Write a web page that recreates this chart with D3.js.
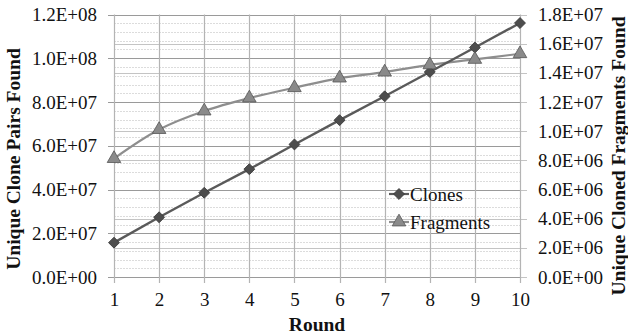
<!DOCTYPE html>
<html>
<head>
<meta charset="utf-8">
<script src="https://cdn.jsdelivr.net/npm/d3@7"></script>
<style>
  html, body { margin: 0; padding: 0; background: #fff; }
  svg { display: block; font-family: "Liberation Serif", "Times New Roman", serif; }
</style>
</head>
<body>
<svg id="chart" width="628" height="335"></svg>
<script>
// Rounds on the category axis
const rounds = [1, 2, 3, 4, 5, 6, 7, 8, 9, 10];
// Unique clone pairs found per round (left axis)
const clones = [1.57e7, 2.73e7, 3.85e7, 4.93e7, 6.06e7, 7.17e7, 8.26e7, 9.37e7, 1.049e8, 1.161e8];
// Unique cloned fragments found per round (right axis)
const fragments = [8.12e6, 1.011e7, 1.138e7, 1.227e7, 1.298e7, 1.364e7, 1.405e7, 1.455e7, 1.492e7, 1.531e7];
// Axis tick values
const leftTicks = [0, 2e7, 4e7, 6e7, 8e7, 1e8, 1.2e8];
const leftMinor = d3.range(0, 1.2e8 + 1, 4e6);
const rightTicks = [0, 2e6, 4e6, 6e6, 8e6, 1e7, 1.2e7, 1.4e7, 1.6e7, 1.8e7];

const svg = d3.select("#chart");
const plot = { left: 114, right: 520, top: 14.5, bottom: 277 };

const x = d3.scaleLinear().domain([1, 10]).range([plot.left, plot.right]);
const yL = d3.scaleLinear().domain([0, 1.2e8]).range([plot.bottom, plot.top]);
const yR = d3.scaleLinear().domain([0, 1.8e7]).range([plot.bottom, plot.top]);

const sci = v => {
  if (v === 0) return "0.0E+00";
  const e = Math.floor(Math.log10(v));
  const m = v / Math.pow(10, e);
  return m.toFixed(1) + "E+" + String(e).padStart(2, "0");
};

const grid = svg.append("g");
// minor gridlines of the left axis
grid.selectAll("line.minor").data(leftMinor).join("line")
  .attr("x1", plot.left).attr("x2", plot.right)
  .attr("y1", d => Math.round(yL(d)) + 0.5).attr("y2", d => Math.round(yL(d)) + 0.5)
  .attr("stroke", "#dcdcdc").attr("stroke-width", 1).attr("stroke-dasharray", "2,1");
// major gridlines of the right axis
grid.selectAll("line.rmaj").data(rightTicks).join("line")
  .attr("x1", plot.left).attr("x2", plot.right + 7)
  .attr("y1", d => Math.round(yR(d)) + 0.5).attr("y2", d => Math.round(yR(d)) + 0.5)
  .attr("stroke", "#c4c4c4").attr("stroke-width", 1);
// major gridlines of the left axis
grid.selectAll("line.lmaj").data(leftTicks).join("line")
  .attr("x1", plot.left - 6).attr("x2", plot.right)
  .attr("y1", d => Math.round(yL(d)) + 0.5).attr("y2", d => Math.round(yL(d)) + 0.5)
  .attr("stroke", "#9a9a9a").attr("stroke-width", 1);
// vertical gridlines at each round
grid.selectAll("line.v").data(rounds).join("line")
  .attr("x1", d => Math.round(x(d)) + 0.5).attr("x2", d => Math.round(x(d)) + 0.5)
  .attr("y1", plot.top).attr("y2", plot.bottom + 6)
  .attr("stroke", "#b4b4b4").attr("stroke-width", 1.2);

// Axes (labels only; the lines above serve as ticks)
const leftAxis = svg.append("g").attr("transform", `translate(${plot.left - 6},0)`)
  .call(d3.axisLeft(yL).tickValues(leftTicks).tickFormat(sci).tickSize(0).tickPadding(11));
const rightAxis = svg.append("g").attr("transform", `translate(${plot.right + 7},0)`)
  .call(d3.axisRight(yR).tickValues(rightTicks).tickFormat(sci).tickSize(0).tickPadding(11));
const bottomAxis = svg.append("g").attr("transform", `translate(0,${plot.bottom + 6})`)
  .call(d3.axisBottom(x).tickValues(rounds).tickFormat(d3.format("d")).tickSize(0).tickPadding(10));
[leftAxis, rightAxis, bottomAxis].forEach(a => {
  a.select(".domain").remove();
  a.selectAll("text").attr("font-size", 19).attr("fill", "#111")
    .attr("font-family", "Liberation Serif, Times New Roman, serif");
});

// Series lines
const clonesLine = d3.line().x((d, i) => x(rounds[i])).y(d => yL(d));
const fragLine = d3.line().x((d, i) => x(rounds[i])).y(d => yR(d)).curve(d3.curveCatmullRom.alpha(0.5));

svg.append("path").datum(fragments).attr("d", fragLine)
  .attr("fill", "none").attr("stroke", "#8e8e8e").attr("stroke-width", 2.2);
svg.append("path").datum(clones).attr("d", clonesLine)
  .attr("fill", "none").attr("stroke", "#5a5a5a").attr("stroke-width", 2.4);

const diamondShape = d3.symbol().type(d3.symbolSquare).size(60);
const tri = d3.symbol().type(d3.symbolTriangle).size(80);

svg.append("g").selectAll("path").data(clones).join("path")
  .attr("d", diamondShape)
  .attr("transform", (d, i) => `translate(${x(rounds[i])},${yL(d)}) rotate(45)`)
  .attr("fill", "#4d4d4d").attr("stroke", "#3a3a3a").attr("stroke-width", 0.8);
svg.append("g").selectAll("path").data(fragments).join("path")
  .attr("d", tri)
  .attr("transform", (d, i) => `translate(${x(rounds[i])},${yR(d)})`)
  .attr("fill", "#8a8a8a").attr("stroke", "#555").attr("stroke-width", 0.8);

// Legend
const legend = svg.append("g").attr("transform", "translate(389,194)");
const items = [
  { name: "Clones", dy: 0, marker: "d" },
  { name: "Fragments", dy: 28, marker: "t" }
];
items.forEach(it => {
  const g = legend.append("g").attr("transform", `translate(0,${it.dy})`);
  g.append("line").attr("x1", 0).attr("x2", 20).attr("y1", 0).attr("y2", 0)
    .attr("stroke", it.marker === "d" ? "#5a5a5a" : "#8e8e8e").attr("stroke-width", 2.2);
  if (it.marker === "d") {
    g.append("path").attr("d", diamondShape)
      .attr("transform", "translate(10,0) rotate(45)")
      .attr("fill", "#4d4d4d").attr("stroke", "#3a3a3a").attr("stroke-width", 0.8);
  } else {
    g.append("path").attr("d", tri).attr("transform", "translate(10,0)")
      .attr("fill", "#8a8a8a").attr("stroke", "#555").attr("stroke-width", 0.8);
  }
  g.append("text").attr("x", 21).attr("y", 0).attr("dy", "0.35em")
    .attr("font-size", 19).attr("fill", "#111").text(it.name);
});

// Axis titles
svg.append("text").attr("transform", "translate(20,159) rotate(-90)")
  .attr("text-anchor", "middle").attr("font-size", 19.5).attr("font-weight", "bold")
  .attr("fill", "#111").text("Unique Clone Pairs Found");
svg.append("text").attr("transform", "translate(625,156) rotate(-90)")
  .attr("text-anchor", "middle").attr("font-size", 19.5).attr("font-weight", "bold")
  .attr("fill", "#111").text("Unique Cloned Fragments Found");
svg.append("text").attr("x", 317).attr("y", 331)
  .attr("text-anchor", "middle").attr("font-size", 19.5).attr("font-weight", "bold")
  .attr("fill", "#111").text("Round");
</script>
</body>
</html>
